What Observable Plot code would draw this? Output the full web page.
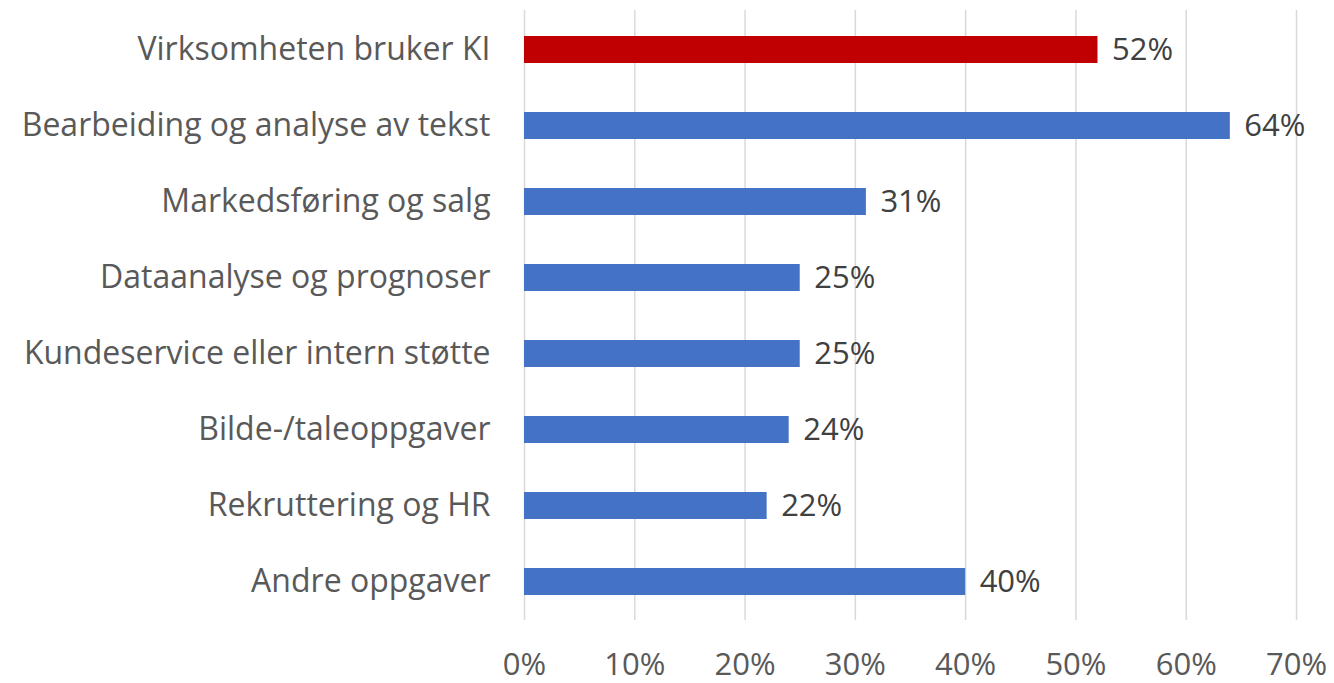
<!DOCTYPE html>
<html>
<head>
<meta charset="utf-8">
<script src="https://cdn.jsdelivr.net/npm/d3@7"></script>
<script src="https://cdn.jsdelivr.net/npm/@observablehq/plot@0.6"></script>
<style>
  html, body { margin: 0; padding: 0; background: #fff; }
  #chart svg { display: block; }
</style>
</head>
<body>
<div id="chart"></div>
<script>
const categories = [
  "Virksomheten bruker KI",
  "Bearbeiding og analyse av tekst",
  "Markedsføring og salg",
  "Dataanalyse og prognoser",
  "Kundeservice eller intern støtte",
  "Bilde-/taleoppgaver",
  "Rekruttering og HR",
  "Andre oppgaver"
];
const values = [0.52, 0.64, 0.31, 0.25, 0.25, 0.24, 0.22, 0.40];
const highlight = [true, false, false, false, false, false, false, false];
const xTicks = [0, 0.1, 0.2, 0.3, 0.4, 0.5, 0.6, 0.7];

const data = categories.map((c, i) => ({category: c, value: values[i], hi: highlight[i]}));
const fmt = d3.format(".0%");

const chart = Plot.plot({
  width: 1334,
  height: 683,
  marginLeft: 524,
  marginRight: 38,
  marginTop: 10,
  marginBottom: 63,
  style: {fontFamily: "'Open Sans', 'Liberation Sans', sans-serif", fontSize: "32px", color: "#595959", background: "#fff"},
  x: {domain: [0, 0.7], ticks: xTicks, tickFormat: fmt, label: null},
  y: {domain: categories, paddingInner: 0.646, paddingOuter: 0.323, label: null},
  marks: [
    Plot.gridX(xTicks, {stroke: "#d9d9d9", strokeOpacity: 1, strokeWidth: 1.5}),
    Plot.barX(data, {y: "category", x: "value", fill: d => d.hi ? "#c00000" : "#4472c4"}),
    Plot.text(data, {y: "category", x: "value", text: d => fmt(d.value), textAnchor: "start", dx: 14, fill: "#404040", fontSize: 31}),
    Plot.axisX({ticks: xTicks, tickFormat: fmt, tickSize: 0, tickPadding: 32, label: null, fill: "#595959", fontSize: 31}),
    Plot.axisY({tickSize: 0, tickPadding: 34, label: null, fill: "#595959", fontSize: 32})
  ]
});
document.getElementById("chart").append(chart);
</script>
</body>
</html>
